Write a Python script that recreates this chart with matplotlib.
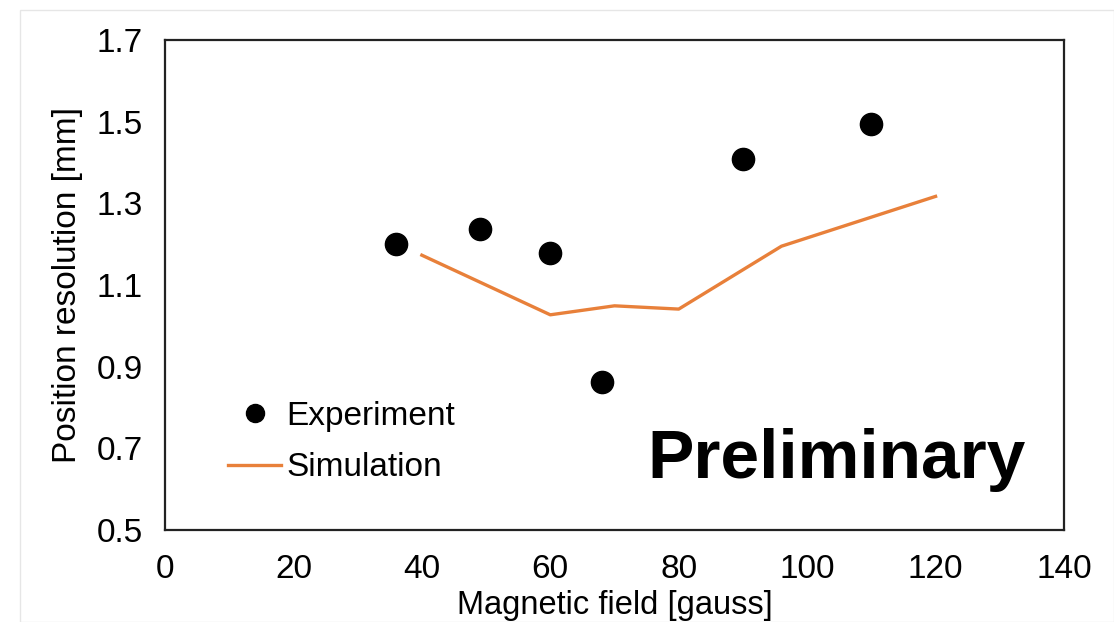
import matplotlib
matplotlib.use("Agg")
import matplotlib.pyplot as plt
from matplotlib.lines import Line2D
from matplotlib.patches import Rectangle

plt.rcParams['font.family'] = ['Liberation Sans', 'DejaVu Sans']

# Data
exp_field = [36, 49, 60, 68, 90, 110]
exp_res = [1.20, 1.237, 1.178, 0.862, 1.408, 1.494]
sim_field = [40, 60, 70, 80, 96, 120]
sim_res = [1.173, 1.027, 1.049, 1.041, 1.195, 1.317]
xticks = [0, 20, 40, 60, 80, 100, 120, 140]
yticks = [0.5, 0.7, 0.9, 1.1, 1.3, 1.5, 1.7]

W, H = 1114, 622
fig = plt.figure(figsize=(W / 100, H / 100), dpi=100)
fig.patches.append(Rectangle((20 / W, 0), 1 - 20 / W, 1 - 10 / H, transform=fig.transFigure,
                             fill=False, edgecolor='#e6e6e6', linewidth=1))
ax = fig.add_axes([165 / W, 1 - 530 / H, (1064 - 165) / W, (530 - 40) / H])

orange = '#E8803A'
ax.plot(sim_field, sim_res, color=orange, linewidth=2.4, label='Simulation', zorder=2)
ax.plot(exp_field, exp_res, linestyle='none', marker='o', color='black', markersize=16,
        label='Experiment', zorder=3)

ax.set_xlim(0, 140)
ax.set_ylim(0.5, 1.7)
ax.set_xticks(xticks)
ax.set_yticks(yticks)
ax.set_xticklabels([str(v) for v in xticks])
ax.set_yticklabels([f"{v:.1f}" for v in yticks])
ax.tick_params(axis='both', length=0, labelsize=24)
ax.tick_params(axis='x', pad=17)
ax.tick_params(axis='y', pad=16)
for s in ax.spines.values():
    s.set_linewidth(1.6)
    s.set_color('#222222')

ax.set_xlabel('Magnetic field [gauss]', fontsize=23.5, labelpad=4)
ax.set_ylabel('Position resolution [mm]', fontsize=24, labelpad=10)

handles = [Line2D([], [], linestyle='none', marker='o', color='black', markersize=13),
           Line2D([], [], color=orange, linewidth=2.4)]
fig.legend(handles, ['Experiment', 'Simulation'], loc='center left',
           bbox_to_anchor=(228 / W, 1 - 442 / H), frameon=False, fontsize=24,
           handlelength=1.6, handletextpad=0.15, labelspacing=0.62, borderpad=0,
           borderaxespad=0)

fig.text(837 / W, 1 - 478 / H, 'Preliminary', fontsize=50, fontweight='bold',
         ha='center', va='baseline')

fig.savefig('out.png', dpi=100, facecolor='white')
